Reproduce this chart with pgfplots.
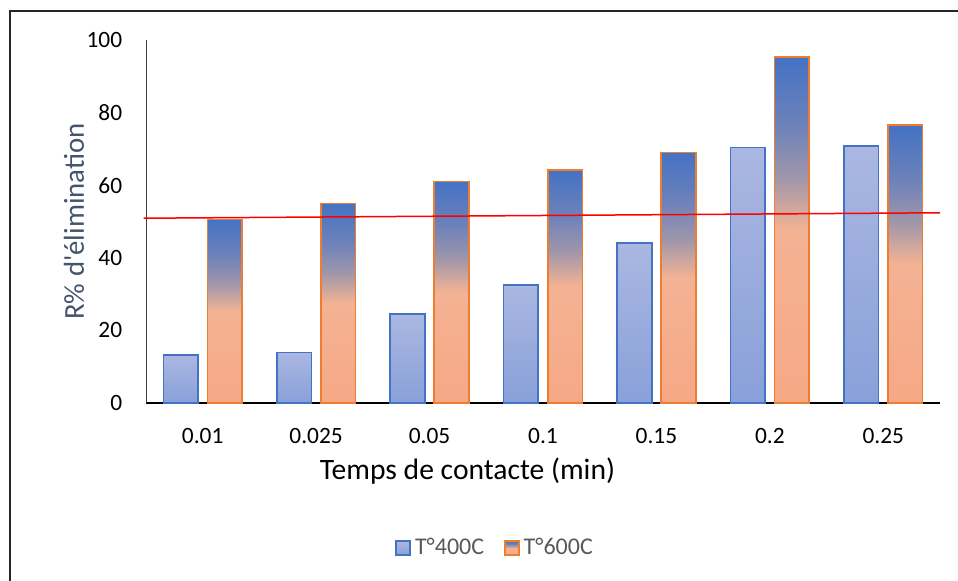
\documentclass[border=0pt]{standalone}
\usepackage{fontspec}
\setmainfont{Carlito}[Ligatures=TeXOff]
\usepackage{pgfplots}
\pgfplotsset{compat=1.18}

\definecolor{b4}{RGB}{68,114,196}
\definecolor{o6}{RGB}{237,125,49}
\definecolor{t4top}{RGB}{170,183,225}
\definecolor{t4bot}{RGB}{137,160,217}
\definecolor{s1}{RGB}{246,168,133}
\definecolor{s2}{RGB}{244,178,148}
\definecolor{s3}{RGB}{215,170,155}
\definecolor{s4}{RGB}{160,150,170}
\definecolor{s5}{RGB}{110,130,185}
\definecolor{ylab}{RGB}{68,84,106}
\definecolor{leg}{RGB}{89,89,89}

\pgfdeclareverticalshading{sixc}{100bp}{color(0bp)=(s1); color(25bp)=(s1); color(50bp)=(s2); color(52.5bp)=(s3); color(57.5bp)=(s4); color(65bp)=(s5); color(75bp)=(b4); color(100bp)=(b4)}

\pgfplotsset{
  sqleg/.style={legend image code/.code={\draw[##1] (0pt,-3.5pt) rectangle (7pt,3.5pt);}},
  bfour/.style={ybar, bar width=0.305, bar shift=-0.194, draw=b4, line width=0.8pt,
    top color=t4top, bottom color=t4bot, sqleg},
  bsix/.style={ybar, bar width=0.305, bar shift=0.194, draw=o6, line width=0.8pt,
    shading=sixc, sqleg},
}

\begin{document}
\begin{tikzpicture}
\begin{axis}[
  at={(0,0)}, anchor=south west,
  scale only axis, width=397pt, height=181.5pt,
  xmin=-0.5, xmax=6.5, ymin=0, ymax=100,
  axis x line=bottom, axis y line=left,
  x axis line style={-, line width=0.9pt, black},
  y axis line style={-, line width=0.4pt, black!75},
  xtick={0,...,6}, xticklabels={0.01,0.025,0.05,0.1,0.15,0.2,0.25},
  ytick={0,20,...,100},
  major tick length=0pt,
  tick style={draw=none},
  /pgf/number format/assume math mode=true,
  ticklabel style={font=\fontsize{11.7}{13}\selectfont, black, inner sep=0pt},
  yticklabel style={xshift=-11.7pt},
  xticklabel style={yshift=-12.5pt},
  clip=false,
  legend columns=2,
  legend style={at={(axis description cs:0.441,-0.3994)}, anchor=center, draw=none, fill=none,
    font=\fontsize{12}{14}\selectfont, text=leg,
    /tikz/every even column/.append style={column sep=8pt}},
]
% one bar per plot so that each bar gets its own gradient
\addplot[bfour] coordinates {(0,13.2)};
\addlegendentry{T°400C}
\addplot[bsix] coordinates {(0,50.6)};
\addlegendentry{T°600C}
% T°400C
\addplot[bfour, forget plot] coordinates {(1,13.9)};
\addplot[bfour, forget plot] coordinates {(2,24.5)};
\addplot[bfour, forget plot] coordinates {(3,32.5)};
\addplot[bfour, forget plot] coordinates {(4,44.0)};
\addplot[bfour, forget plot] coordinates {(5,70.4)};
\addplot[bfour, forget plot] coordinates {(6,70.8)};
% T°600C
\addplot[bsix, forget plot] coordinates {(1,55.0)};
\addplot[bsix, forget plot] coordinates {(2,61.0)};
\addplot[bsix, forget plot] coordinates {(3,64.2)};
\addplot[bsix, forget plot] coordinates {(4,69.0)};
\addplot[bsix, forget plot] coordinates {(5,95.3)};
\addplot[bsix, forget plot] coordinates {(6,76.6)};
% trend line
\addplot[red, line width=0.75pt, sharp plot, no marks, forget plot]
  coordinates {(-0.52,50.9) (6.5,52.4)};
\node[rotate=90, anchor=base, font=\fontsize{14.4}{17}\selectfont, text=ylab]
  at (axis description cs:-0.0781,0.5) {R\% d'élimination};
\node[anchor=base, font=\fontsize{14.8}{17}\selectfont, text=black]
  at (axis description cs:0.4049,-0.2121) {Temps de contacte (min)};
\end{axis}
\draw[line width=1pt, black!85] (-68pt,-89pt) -- (-68pt,196pt) -- (406pt,196pt);
\pgfresetboundingbox
\useasboundingbox (-73pt,-89pt) rectangle (406pt,201.5pt);
\end{tikzpicture}
\end{document}
